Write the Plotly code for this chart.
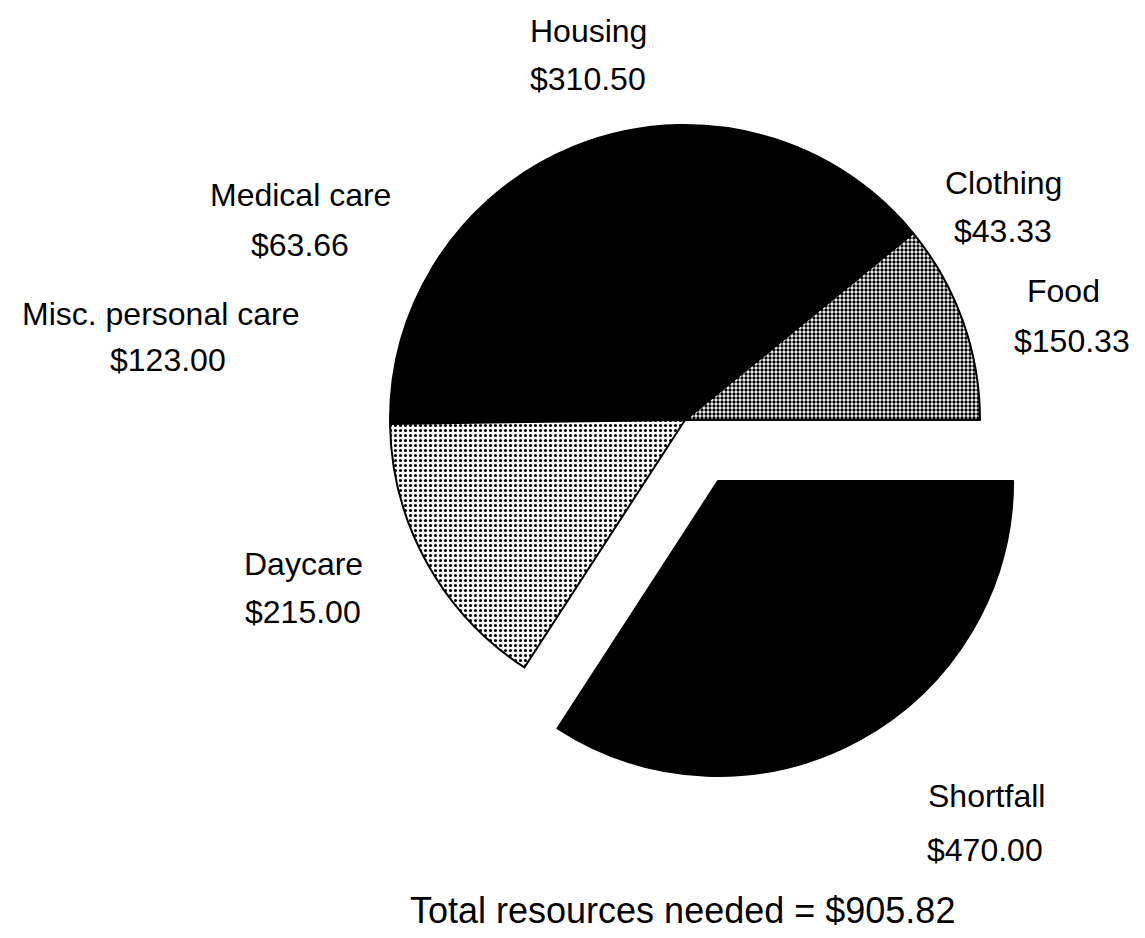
import plotly.graph_objects as go

# Data
categories = ["Food", "Clothing", "Housing", "Medical care",
              "Misc. personal care", "Daycare", "Shortfall"]
values = [150.33, 43.33, 310.50, 63.66, 123.00, 215.00, 470.00]
total_needed = 905.82

# Styling (kept separate from data)
PAGE_MARGIN = 8                 # default HTML body margin
W, H = 1145 - PAGE_MARGIN, 938 - PAGE_MARGIN
slice_colors = ["#ffffff", "#000000", "#000000", "#000000", "#000000", "#ffffff", "#000000"]
pulls = [0, 0, 0, 0, 0, 0, 0.235]
patterns = [
    dict(shape=".", fgcolor="#000000", bgcolor="#ffffff", size=4, solidity=0.55),
    dict(shape=""), dict(shape=""), dict(shape=""), dict(shape=""),
    dict(shape=".", fgcolor="#000000", bgcolor="#ffffff", size=5, solidity=0.3),
    dict(shape=""),
]

# label anchor positions in window pixels (name line, value line)
label_pos = {
    "Housing": ((588, 31), (588, 79)),
    "Clothing": ((1003, 183), (1003, 231)),
    "Food": ((1063, 291), (1072, 341)),
    "Medical care": ((300, 195), (300, 245)),
    "Misc. personal care": ((160, 314), (168, 360)),
    "Daycare": ((303, 564), (303, 612)),
    "Shortfall": ((986, 796), (985, 850)),
}


def px(x):
    return (x - PAGE_MARGIN) / W


def py(y):
    return 1 - (y - PAGE_MARGIN) / H


# pie box: center (685, 420), radius ~295 px (window pixels)
cx, cy, r = 685, 420, 295
half = r * (1 + max(pulls))
dom_x = [px(cx - half), px(cx + half)]
dom_y = [py(cy + half), py(cy - half)]

# first slice (Food) begins at 3 o'clock and slices run counterclockwise
rotation = 90 - 360 * values[0] / sum(values)

fig = go.Figure(go.Pie(
    labels=categories,
    values=values,
    sort=False,
    direction="counterclockwise",
    rotation=rotation,
    pull=pulls,
    textinfo="none",
    hoverinfo="label+value",
    showlegend=False,
    marker=dict(colors=slice_colors, pattern=dict(
        shape=[p.get("shape", "") for p in patterns],
        fgcolor=[p.get("fgcolor", "#000000") for p in patterns],
        bgcolor=[p.get("bgcolor", c) for p, c in zip(patterns, slice_colors)],
        size=[p.get("size", 8) for p in patterns],
        solidity=[p.get("solidity", 0.3) for p in patterns],
    ), line=dict(color="#000000", width=2)),
    domain=dict(x=dom_x, y=dom_y),
))

font = dict(family="Liberation Sans, Arial, sans-serif", size=32, color="#000000")
annotations = []
for cat, val in zip(categories, values):
    (nx, ny), (vx, vy) = label_pos[cat]
    annotations.append(dict(text=cat, x=px(nx), y=py(ny), xref="paper", yref="paper",
                            xanchor="center", yanchor="middle", showarrow=False, font=font))
    annotations.append(dict(text=f"${val:,.2f}", x=px(vx), y=py(vy), xref="paper", yref="paper",
                            xanchor="center", yanchor="middle", showarrow=False, font=font))

annotations.append(dict(text=f"Total resources needed = ${total_needed:,.2f}",
                        x=px(682), y=py(910), xref="paper", yref="paper",
                        xanchor="center", yanchor="middle", showarrow=False,
                        font=dict(family="Liberation Sans, Arial, sans-serif", size=36, color="#000000")))

fig.update_layout(
    width=W, height=H,
    margin=dict(l=0, r=0, t=0, b=0),
    paper_bgcolor="#ffffff",
    plot_bgcolor="#ffffff",
    annotations=annotations,
)

fig.write_html("out.html")
